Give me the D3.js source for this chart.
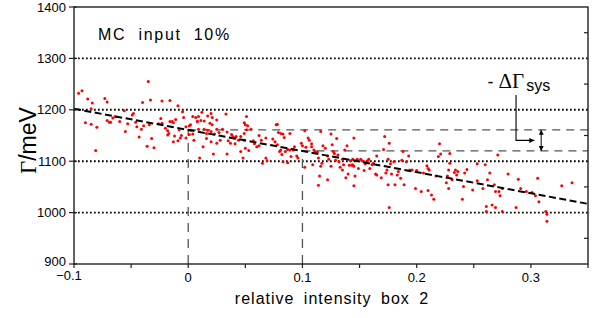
<!DOCTYPE html>
<meta charset="utf-8">
<script src="https://d3js.org/d3.v7.min.js"></script>
<style>
body { margin: 0; background: #fff; }
text { font-family: "Liberation Sans", Arial, sans-serif; fill: #000; }
</style>
<div id="chart"></div>

<script>
// axis ticks
const xTicks = [-0.1, 0, 0.1, 0.2, 0.3];
const xTickLabels = ["\u22120.1", "0", "0.1", "0.2", "0.3"];
const yTicks = [900, 1000, 1100, 1200, 1300, 1400];
const gridY = [1000, 1100, 1200, 1300];

// straight line fit and the two reference readings
const fitX = [-0.1, 0.35], fitY = [1202, 1017];
const refX = [0, 0.1], refY = [1161, 1120];

// MC points: [relative intensity box 2, Gamma in meV]
const mcPoints = [
  [-0.096,1232],[-0.093,1237],[-0.088,1221],[-0.084,1213],[-0.085,1202],[-0.090,1175],[-0.085,1172],[-0.080,1166],
  [-0.081,1121],[-0.073,1222],[-0.071,1215],[-0.071,1179],[-0.069,1176],[-0.068,1176],[-0.066,1184],[-0.064,1187],
  [-0.060,1177],[-0.056,1198],[-0.055,1158],[-0.053,1173],[-0.049,1190],[-0.048,1193],[-0.046,1176],[-0.045,1167],
  [-0.043,1147],[-0.041,1162],[-0.040,1214],[-0.039,1169],[-0.035,1255],[-0.033,1219],[-0.034,1171],[-0.032,1144],
  [-0.036,1129],[-0.030,1126],[-0.026,1173],[-0.023,1217],[-0.024,1183],[-0.023,1174],[-0.020,1164],[-0.018,1159],
  [-0.018,1151],[-0.017,1154],[-0.016,1218],[-0.016,1177],[-0.014,1177],[-0.013,1175],[-0.011,1181],[-0.013,1138],
  [-0.012,1149],[-0.009,1208],[-0.009,1140],[-0.008,1161],[-0.007,1145],[-0.006,1150],[-0.005,1196],[-0.004,1185],
  [-0.002,1145],[-0.002,1167],[0.001,1169],[0.001,1152],[0.002,1171],[0.002,1160],[0.004,1187],[0.004,1153],
  [0.005,1141],[0.008,1177],[0.009,1187],
  [0.0066,1185],[0.008,1177],[0.011,1179],[0.014,1178],[0.012,1195],[0.017,1188],[0.020,1193],[0.021,1185],
  [0.019,1174],[0.021,1171],[0.025,1180],[0.033,1192],[0.009,1162],[0.014,1162],[0.017,1160],[0.016,1154],
  [0.020,1158],[0.023,1153],[0.025,1162],[0.027,1156],[0.030,1162],[0.034,1157],[0.038,1152],[0.035,1140],
  [0.039,1148],[0.041,1145],[0.042,1148],[0.044,1141],[0.041,1134],[0.037,1135],[0.013,1128],[0.016,1144],
  [0.020,1138],[0.022,1114],[0.025,1135],[0.010,1106],[0.034,1114],[0.028,1141],[0.049,1175],[0.050,1171],
  [0.051,1187],[0.052,1169],[0.051,1161],[0.055,1162],[0.049,1154],[0.046,1148],[0.049,1141],[0.046,1119],
  [0.048,1106],[0.050,1125],[0.053,1121],[0.057,1140],[0.058,1134],[0.060,1128],[0.062,1130],[0.062,1150],
  [0.064,1141],[0.068,1145],[0.065,1096],[0.068,1106],[0.069,1101],[0.074,1143],[0.076,1138],[0.077,1171],
  [0.078,1172],[0.079,1156],[0.081,1154],[0.083,1153],[0.084,1146],[0.078,1132],[0.080,1119],[0.081,1122],
  [0.082,1113],[0.085,1119],[0.087,1123],[0.089,1122],[0.090,1109],[0.092,1123],[0.093,1128],[0.092,1122],
  [0.089,1154],[0.095,1110],[0.096,1106],[0.099,1135],[0.102,1159],[0.100,1130],[0.103,1127],[0.105,1145],
  [0.106,1141],[0.108,1134],[0.108,1128],[0.110,1122],[0.111,1119],[0.113,1118],[0.087,1097],[0.083,1099],
  [0.102,1088],[0.109,1093],[0.114,1106],[0.115,1071],[0.114,1053],[0.116,1158],
  [0.116,1090],[0.117,1096],[0.118,1130],[0.120,1125],[0.122,1110],[0.123,1104],[0.125,1090],[0.122,1064],
  [0.125,1153],[0.126,1132],[0.127,1119],[0.128,1115],[0.129,1102],[0.130,1144],[0.131,1112],[0.132,1099],
  [0.133,1088],[0.135,1104],[0.135,1083],[0.136,1093],[0.137,1122],[0.139,1130],[0.138,1068],[0.140,1075],
  [0.141,1092],[0.142,1101],[0.143,1092],[0.144,1093],[0.145,1090],[0.144,1104],[0.145,1145],[0.146,1071],
  [0.145,1052],[0.147,1101],[0.148,1104],[0.149,1086],[0.151,1104],[0.152,1101],[0.154,1099],[0.155,1095],
  [0.154,1082],[0.157,1101],[0.158,1104],[0.159,1086],[0.161,1093],[0.162,1096],[0.165,1110],[0.165,1073],
  [0.164,1075],[0.169,1068],[0.171,1123],[0.172,1148],[0.176,1135],[0.174,1083],[0.173,1077],[0.175,1104],
  [0.177,1095],[0.175,1054],[0.176,1010],[0.178,1075],[0.180,1099],[0.181,1054],[0.183,1073],[0.184,1080],
  [0.186,1067],[0.188,1119],[0.187,1102],[0.189,1054],[0.191,1099],[0.193,1110],[0.194,1083],[0.196,1083],
  [0.199,1047],[0.200,1082],[0.204,1041],[0.206,1077],[0.209,1091],[0.210,1086],[0.210,1043],[0.211,1083],
  [0.213,1034],[0.215,1026],[0.217,1071],[0.220,1134],[0.221,1114],[0.219,1109],
  [0.229,1115],[0.229,1096],[0.228,1083],[0.227,1071],[0.226,1058],[0.228,1047],[0.231,1064],[0.233,1078],
  [0.234,1083],[0.235,1073],[0.236,1080],[0.242,1077],[0.244,1084],[0.241,1051],[0.240,1026],[0.249,1044],
  [0.253,1095],[0.253,1062],[0.260,1093],[0.262,1064],[0.258,1047],[0.264,1077],[0.268,1054],[0.269,1041],
  [0.271,1112],[0.272,1041],[0.273,1033],[0.275,1047],[0.261,1012],[0.261,1002],[0.266,1015],[0.269,1010],
  [0.275,1002],[0.280,1075],[0.287,1010],[0.289,1065],[0.291,1047],[0.296,1041],[0.304,1033],[0.306,1067],
  [0.307,1021],[0.313,1002],[0.314,997],[0.314,983],[0.301,1039],[0.327,1052],[0.336,1058]
];

// annotation anchor points (data units)
const arrowX = [0.287, 0.303], arrowY = [1229, 1140.5];
const spanX = 0.309;

const margin = {top: 7, right: 17, bottom: 54, left: 74},
      width = 605 - margin.left - margin.right,
      height = 318 - margin.top - margin.bottom;

const svg = d3.select("#chart")
  .append("svg")
  .attr("width", width + margin.left + margin.right)
  .attr("height", height + margin.top + margin.bottom)
  .append("g")
  .attr("transform", `translate(${margin.left}, ${margin.top})`);

const x = d3.scaleLinear().domain([-0.1, 0.35]).range([0, width]);
const y = d3.scaleLinear().domain([900, 1400]).range([height, 0]);

// arrow heads
const defs = svg.append("defs");
defs.append("marker").attr("id", "head")
  .attr("viewBox", "0 0 10 10").attr("refX", 10).attr("refY", 5)
  .attr("markerWidth", 10).attr("markerHeight", 5).attr("markerUnits", "userSpaceOnUse")
  .attr("orient", "auto-start-reverse")
  .append("path").attr("d", "M0,0L10,5L0,10z").attr("fill", "#000");
defs.append("marker").attr("id", "small")
  .attr("viewBox", "0 0 10 10").attr("refX", 10).attr("refY", 5)
  .attr("markerWidth", 6).attr("markerHeight", 5).attr("markerUnits", "userSpaceOnUse")
  .attr("orient", "auto-start-reverse")
  .append("path").attr("d", "M0,0L10,5L0,10z").attr("fill", "#000");

// dotted grid
svg.append("g").selectAll("line").data(gridY).join("line")
  .attr("x1", 0).attr("x2", width)
  .attr("y1", d => y(d)).attr("y2", d => y(d))
  .attr("stroke", "#000").attr("stroke-width", 1.9)
  .attr("stroke-dasharray", "1.7,2.3");

// reference dashed lines
svg.append("g").selectAll("line").data(refX).join("line")
  .attr("x1", d => x(d)).attr("x2", d => x(d))
  .attr("y1", height).attr("y2", (d, i) => y(refY[i]))
  .attr("stroke", "#555").attr("stroke-width", 1.3)
  .attr("stroke-dasharray", "9,7");
svg.append("g").selectAll("line").data(refX).join("line")
  .attr("x1", d => x(d)).attr("x2", width)
  .attr("y1", (d, i) => y(refY[i])).attr("y2", (d, i) => y(refY[i]))
  .attr("stroke", "#555").attr("stroke-width", 1.3)
  .attr("stroke-dasharray", "8,6");

// points
svg.append("g").selectAll("circle").data(mcPoints).join("circle")
  .attr("cx", d => x(d[0])).attr("cy", d => y(d[1]))
  .attr("r", 1.5).attr("fill", "#ff0000");

// fit
svg.append("line")
  .attr("x1", x(fitX[0])).attr("y1", y(fitY[0]))
  .attr("x2", x(fitX[1])).attr("y2", y(fitY[1]))
  .attr("stroke", "#000").attr("stroke-width", 2)
  .attr("stroke-dasharray", "7,3.5");

// frame
svg.append("rect").attr("width", width).attr("height", height)
  .attr("fill", "none").attr("stroke", "#222").attr("stroke-width", 1.4);

// ticks
const xAll = d3.range(-0.1, 0.351, 0.05);
svg.append("g").selectAll("line").data(xAll).join("line")
  .attr("x1", d => x(d)).attr("x2", d => x(d))
  .attr("y1", height).attr("y2", height + 4)
  .attr("stroke", "#222").attr("stroke-width", 1.2);
svg.append("g").selectAll("line").data(yTicks).join("line")
  .attr("x1", -5).attr("x2", 3)
  .attr("y1", d => y(d)).attr("y2", d => y(d))
  .attr("stroke", "#222").attr("stroke-width", 1.2);
svg.append("g").selectAll("line").data(d3.range(950, 1400, 100)).join("line")
  .attr("x1", width - 4).attr("x2", width)
  .attr("y1", d => y(d)).attr("y2", d => y(d))
  .attr("stroke", "#222").attr("stroke-width", 1.2);

// tick labels
svg.append("g").selectAll("text").data(xTicks).join("text")
  .attr("x", (d, i) => i === 0 ? x(d) - 5 : x(d))
  .attr("y", (d, i) => i === 0 ? height + 16 : height + 18)
  .attr("text-anchor", "middle").style("font-size", "13px")
  .text((d, i) => xTickLabels[i]);
svg.append("g").selectAll("text").data(yTicks).join("text")
  .attr("x", -8).attr("y", d => d === 900 ? y(d) - 3 : y(d)).attr("dy", "0.36em")
  .attr("text-anchor", "end").style("font-size", "13px")
  .text(d => d);

// axis titles
svg.append("text")
  .attr("x", 258).attr("y", height + 40)
  .attr("text-anchor", "middle")
  .style("font-size", "16px").style("letter-spacing", "1px").style("word-spacing", "4px")
  .text("relative intensity box 2");

const yl = svg.append("text")
  .attr("transform", `translate(-38, ${y(1140)}) rotate(-90)`)
  .attr("text-anchor", "middle").style("font-size", "23px");
yl.append("tspan").style("font-family", "'Liberation Serif', serif").text("\u0393");
yl.append("tspan").text("/meV");

svg.append("text")
  .attr("x", 24).attr("y", 33)
  .style("font-size", "16px").style("letter-spacing", "1.7px").style("word-spacing", "6px")
  .text("MC input 10%");

// systematic shift annotation
const ann = svg.append("text")
  .attr("x", x(0.262)).attr("y", y(1242));
ann.append("tspan").style("font-size", "18px").text("-");
ann.append("tspan").attr("dx", 5).style("font-family", "'Liberation Serif', serif").style("font-size", "21px").text("\u0394\u0393");
ann.append("tspan").attr("dy", 3).attr("dx", 2).style("font-size", "16px").text("sys");

svg.append("path")
  .attr("d", `M${x(arrowX[0])},${y(arrowY[0])}V${y(arrowY[1])}H${x(arrowX[1])}`)
  .attr("fill", "none").attr("stroke", "#000").attr("stroke-width", 1.1)
  .attr("marker-end", "url(#head)");
svg.append("line")
  .attr("x1", x(spanX)).attr("x2", x(spanX))
  .attr("y1", y(refY[0])).attr("y2", y(refY[1]))
  .attr("stroke", "#000").attr("stroke-width", 1)
  .attr("marker-start", "url(#small)").attr("marker-end", "url(#small)");
</script>
